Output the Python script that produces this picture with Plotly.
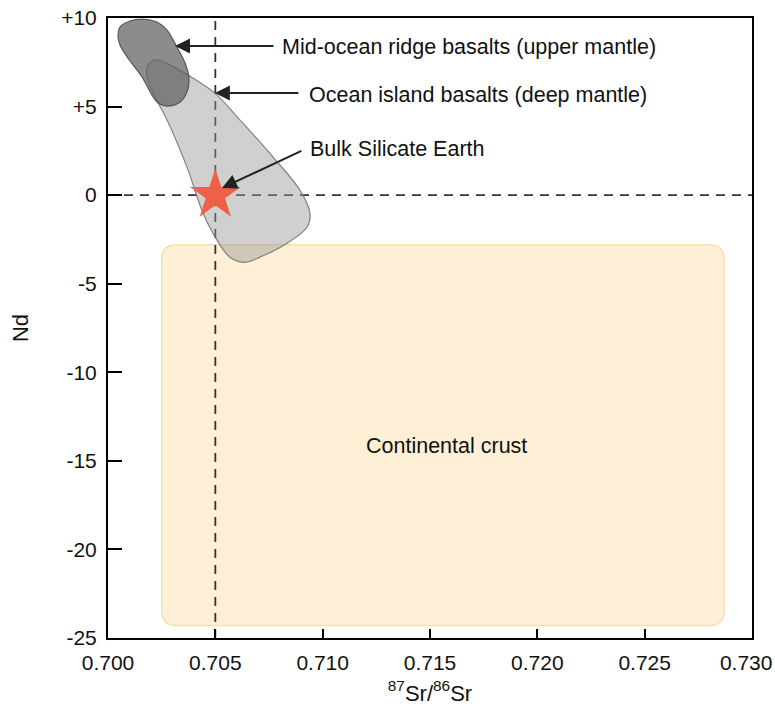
import plotly.graph_objects as go

# ---- data ----
x_ticks = [0.700, 0.705, 0.710, 0.715, 0.720, 0.725, 0.730]
x_tick_labels = ["0.700", "0.705", "0.710", "0.715", "0.720", "0.725", "0.730\u00a0\u00a0"]
y_ticks = [10, 5, 0, -5, -10, -15, -20, -25]
y_tick_labels = ["+10", "+5", "0", "-5", "-10", "-15", "-20", "-25"]

morb_x = [0.70047, 0.70056, 0.70102, 0.70163, 0.70228, 0.70275, 0.70321, 0.70359,
          0.70377, 0.70368, 0.70335, 0.70275, 0.70233, 0.70205, 0.70158, 0.70089,
          0.70056, 0.70047]
morb_y = [8.93, 9.49, 9.83, 9.94, 9.77, 9.32, 8.36, 7.46,
          6.61, 5.82, 5.25, 5.03, 5.20, 5.65, 6.67, 7.80,
          8.47, 8.93]

oib_x = [0.70205, 0.70233, 0.70289, 0.70373, 0.70498, 0.70615, 0.70769, 0.70894,
         0.70941, 0.70927, 0.70834, 0.70708, 0.70638, 0.70568, 0.70508, 0.70443,
         0.70368, 0.70275, 0.70210, 0.70182, 0.70182, 0.70205]
oib_y = [7.57, 7.63, 7.34, 6.78, 5.76, 4.24, 2.15, 0.28,
         -1.02, -1.81, -2.71, -3.50, -3.79, -3.50, -2.54, -1.02,
         1.58, 4.24, 5.76, 6.67, 7.23, 7.57]

crust_x = [0.7025, 0.7287]
crust_y = [-24.3, -2.8]

bse_x = [0.705]
bse_y = [0.0]

ref_sr = 0.705
ref_nd = 0.0

FONT = "Liberation Sans, Arial, Helvetica, sans-serif"

fig = go.Figure()

# dashed reference lines
fig.add_trace(go.Scatter(x=[ref_sr, ref_sr], y=[-25, 10], mode="lines",
                         line=dict(color="#333333", width=1.8, dash="9px,7px"),
                         hoverinfo="skip", showlegend=False))
fig.add_trace(go.Scatter(x=[0.700, 0.730], y=[ref_nd, ref_nd], mode="lines",
                         line=dict(color="#333333", width=1.8, dash="9px,7px"),
                         hoverinfo="skip", showlegend=False))

# OIB field
fig.add_trace(go.Scatter(x=oib_x, y=oib_y, mode="lines", fill="toself",
                         fillcolor="rgba(150,150,150,0.45)",
                         line=dict(color="rgba(120,120,120,0.9)", width=1.2, shape="spline", smoothing=1.0),
                         hoverinfo="skip", showlegend=False))
# MORB field
fig.add_trace(go.Scatter(x=morb_x, y=morb_y, mode="lines", fill="toself",
                         fillcolor="rgba(95,95,95,0.72)",
                         line=dict(color="rgba(80,80,80,0.9)", width=1.2, shape="spline", smoothing=1.0),
                         hoverinfo="skip", showlegend=False))

# Bulk Silicate Earth star
fig.add_trace(go.Scatter(x=bse_x, y=bse_y, mode="markers",
                         marker=dict(symbol="star", size=38, color="#EF6049",
                                     line=dict(width=0)),
                         hoverinfo="skip", showlegend=False))

# continental crust rounded rectangle
x0, x1 = crust_x
y0, y1 = crust_y
rx, ry = 0.0007, 0.85
path = (f"M {x0+rx},{y1} L {x1-rx},{y1} Q {x1},{y1} {x1},{y1-ry} "
        f"L {x1},{y0+ry} Q {x1},{y0} {x1-rx},{y0} "
        f"L {x0+rx},{y0} Q {x0},{y0} {x0},{y0+ry} "
        f"L {x0},{y1-ry} Q {x0},{y1} {x0+rx},{y1} Z")
fig.add_shape(type="path", path=path, xref="x", yref="y", layer="below",
              fillcolor="#FEF0D6", line=dict(color="#FBDDB0", width=1.5))

# annotations
arrows = [
    dict(tip=(0.70312, 8.42), tail=(0.70778, 8.42)),
    dict(tip=(0.70498, 5.76), tail=(0.70894, 5.76)),
    dict(tip=(0.70531, 0.40), tail=(0.70908, 2.54)),
]
for a in arrows:
    fig.add_annotation(x=a["tip"][0], y=a["tip"][1], ax=a["tail"][0], ay=a["tail"][1],
                       xref="x", yref="y", axref="x", ayref="y", text="",
                       showarrow=True, arrowhead=2, arrowsize=1.5, arrowwidth=2,
                       arrowcolor="#222222", standoff=0, startstandoff=0)

labels = [
    ("Mid-ocean ridge basalts (upper mantle)", 0.70801, 8.36),
    ("Ocean island basalts (deep mantle)", 0.70927, 5.65),
    ("Bulk Silicate Earth", 0.70932, 2.60),
]
for t, lx, ly in labels:
    fig.add_annotation(x=lx, y=ly, xref="x", yref="y", text=t, showarrow=False,
                       xanchor="left", yanchor="middle",
                       font=dict(family=FONT, size=21.5, color="#111111"))
fig.add_annotation(x=0.71579, y=-14.18, xref="x", yref="y", text="Continental crust",
                   showarrow=False, xanchor="center", yanchor="middle",
                   font=dict(family=FONT, size=21.5, color="#111111"))

fig.update_layout(
    width=775, height=714,
    margin=dict(l=108, r=23, t=18, b=76),
    paper_bgcolor="white", plot_bgcolor="white",
    font=dict(family=FONT, size=21, color="#111111"),
    showlegend=False,
    xaxis=dict(range=[0.700, 0.730], tickvals=x_ticks, ticktext=x_tick_labels,
               ticks="inside", ticklen=9, tickwidth=2, tickcolor="black",
               ticklabeloverflow="allow", ticklabelstandoff=5, automargin=False,
               tickfont=dict(family=FONT, size=21),
               showline=True, linecolor="black", linewidth=2, mirror=True,
               showgrid=False, zeroline=False,
               title=dict(text="<sup>87</sup>Sr/<sup>86</sup>Sr", standoff=12,
                          font=dict(family=FONT, size=22))),
    yaxis=dict(range=[-25, 10], tickvals=y_ticks, ticktext=y_tick_labels,
               ticks="inside", ticklen=14, tickwidth=2, tickcolor="black",
               ticklabeloverflow="allow", ticklabelstandoff=5, automargin=False,
               tickfont=dict(family=FONT, size=21),
               showline=True, linecolor="black", linewidth=2, mirror=True,
               showgrid=False, zeroline=False,
               title=dict(text="Nd", standoff=26, font=dict(family=FONT, size=22))),
)

fig.write_html("out.html")
